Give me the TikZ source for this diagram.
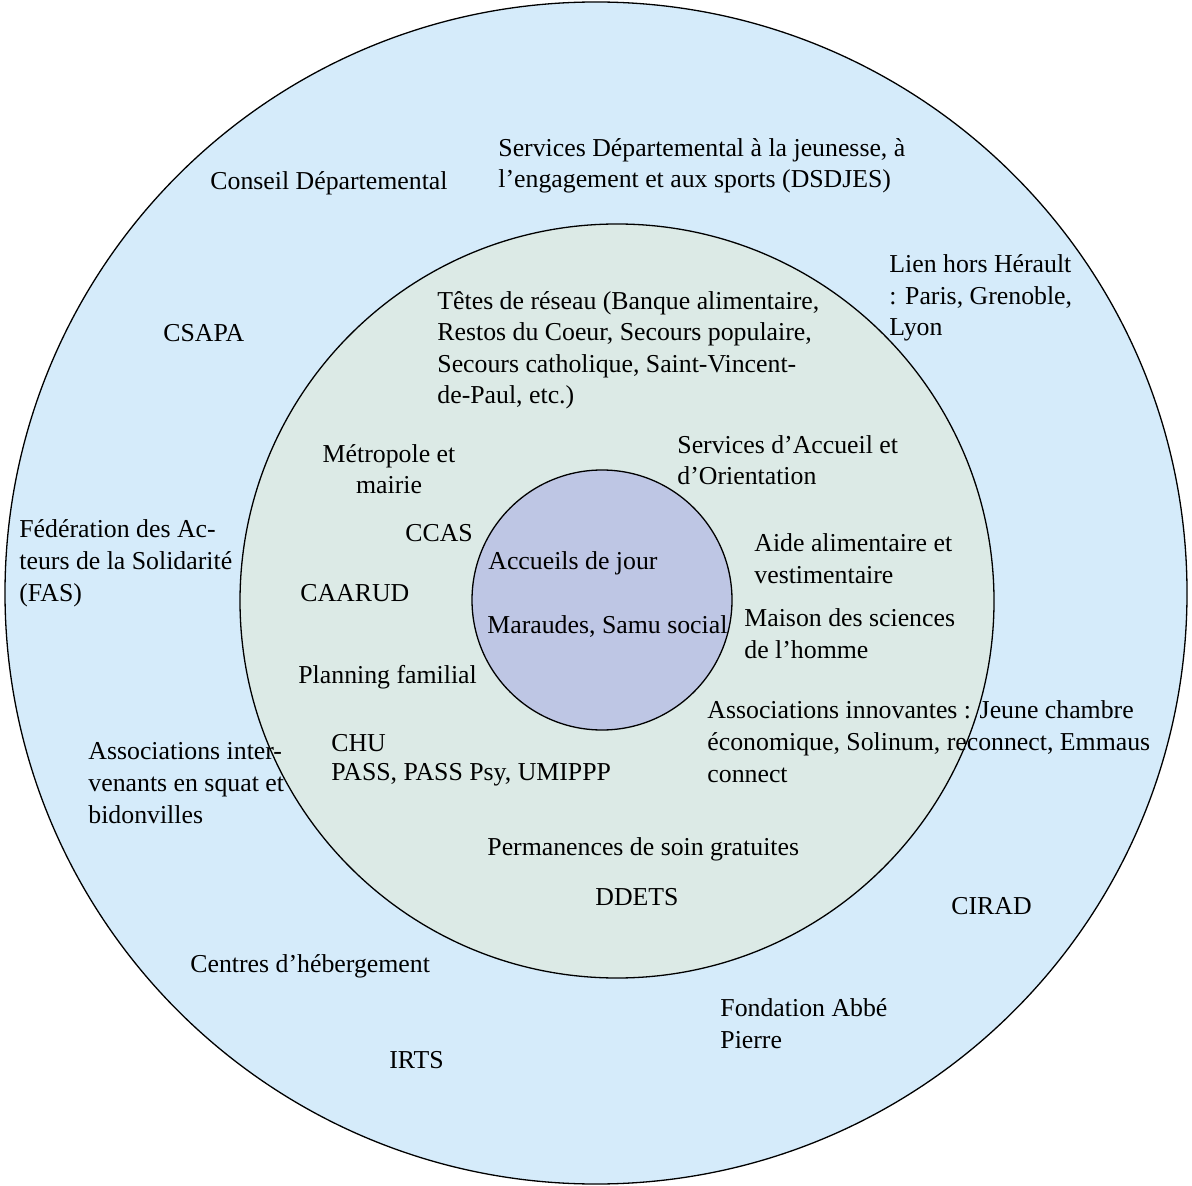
\documentclass[tikz,border=0pt]{standalone}
\usepackage{fontspec}
\setmainfont{Liberation Serif}
\definecolor{outerblue}{RGB}{213,235,250}
\definecolor{midgreen}{RGB}{220,234,230}
\definecolor{innerlav}{RGB}{190,198,228}

\begin{document}
\begin{tikzpicture}[x=0.5pt,y=-0.5pt,
    lbl/.style={inner sep=0pt,anchor=base west,align=left,
      font=\fontsize{12.9}{15.8}\selectfont},
    lblc/.style={lbl,anchor=base,align=center}]
      \useasboundingbox (0,0) rectangle (1192,1186);
      % the three rings
      \draw[line width=0.65pt,fill=outerblue] (596,593) circle (591);
      \draw[line width=0.65pt,fill=midgreen] (617,601) circle (377);
      \draw[line width=0.65pt,fill=innerlav] (602,600) circle (130);
      % outer ring (multi-line labels sit on their last line)
      \draw
        (210,190) node[lbl] (cd){Conseil Départemental}
        (498,188) node[lbl] (dsdjes){Services Départemental à la jeunesse, à\\l’engagement et aux sports (DSDJES)}
        (889,336) node[lbl] (lien){Lien hors Hérault\\: Paris, Grenoble,\\Lyon}
        (163,342) node[lbl] (csapa){CSAPA}
        (19,601) node[lbl] (fas){Fédération des Ac-\\teurs de la Solidarité\\(FAS)}
        (88,823) node[lbl] (squat){Associations inter-\\venants en squat et\\bidonvilles}
        (951,914) node[lbl] (cirad){CIRAD}
        (190,972) node[lbl] (heberg){Centres d’hébergement}
        (720,1048) node[lbl] (fap){Fondation Abbé\\Pierre}
        (389,1068) node[lbl] (irts){IRTS};
      % middle ring
      \draw
        (437,404) node[lbl] (tetes){Têtes de réseau (Banque alimentaire,\\Restos du Coeur, Secours populaire,\\Secours catholique, Saint-Vincent-\\de-Paul, etc.)}
        (389,494) node[lblc] (metro){Métropole et\\mairie}
        (677,485) node[lbl] (sao){Services d’Accueil et\\d’Orientation}
        (405,541) node[lbl] (ccas){CCAS}
        (754,583) node[lbl] (aide){Aide alimentaire et\\vestimentaire}
        (300,601) node[lbl] (caarud){CAARUD}
        (744,658) node[lbl] (msh){Maison des sciences\\de l’homme}
        (298,683) node[lbl] (planning){Planning familial}
        (707,782) node[lbl] (innov){Associations innovantes : Jeune chambre\\économique, Solinum, reconnect, Emmaus\\connect}
        (331,780) node[lbl,font=\fontsize{12.9}{14.5}\selectfont] (chu){CHU\\PASS, PASS Psy, UMIPPP}
        (487,855) node[lbl] (perm){Permanences de soin gratuites}
        (595,905) node[lbl] (ddets){DDETS};
      % inner circle
      \draw
        (488,569) node[lbl] (accueil){Accueils de jour}
        (487,633) node[lbl] (maraude){Maraudes, Samu social};
    \end{tikzpicture}
\end{document}
